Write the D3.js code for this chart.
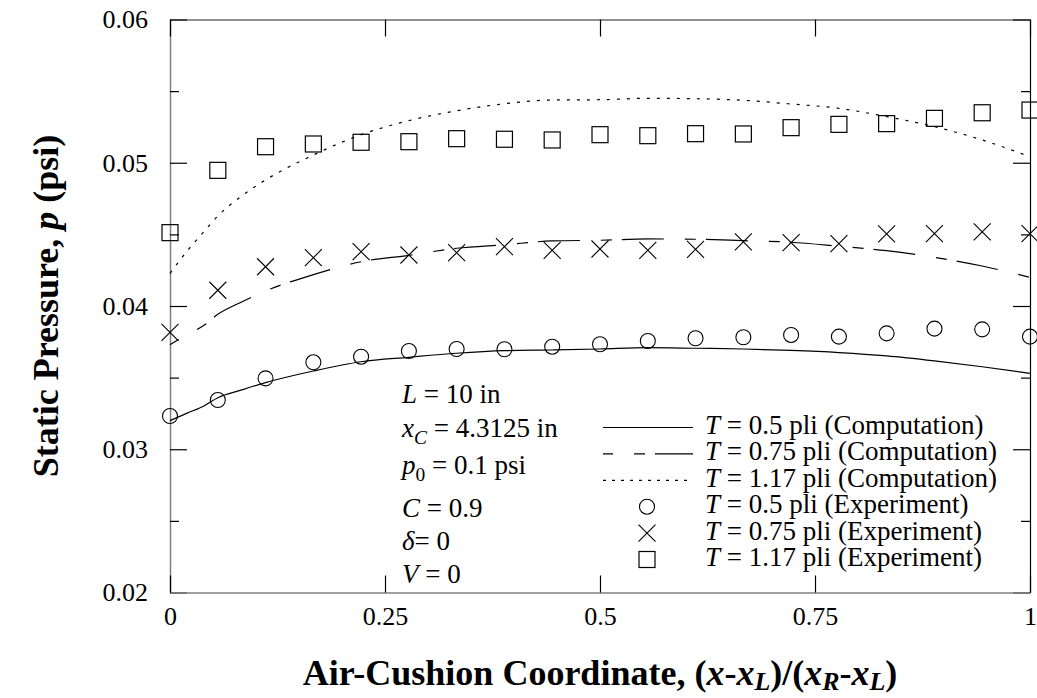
<!DOCTYPE html>
<html>
<head>
<meta charset="utf-8">
<script src="https://cdn.jsdelivr.net/npm/d3@7"></script>
<style>
  body { margin: 0; background: #fff; }
  text { font-family: "Liberation Serif", "Times New Roman", serif; fill: #000; }
</style>
</head>
<body>
<div class="chart"></div>
<script>
//axis ticks and their labels
var xMajor = [0, 0.25, 0.5, 0.75, 1];
var xTickLabels = ["0", "0.25", "0.5", "0.75", "1"];
var yMajor = [0.02, 0.03, 0.04, 0.05, 0.06];
var yTickLabels = ["0.02", "0.03", "0.04", "0.05", "0.06"];
var yMinor = [0.025, 0.035, 0.045, 0.055];

//stations of the measured pressures
var expX = [0, 0.0556, 0.1111, 0.1667, 0.2222, 0.2778, 0.3333, 0.3889, 0.4444, 0.5,
            0.5556, 0.6111, 0.6667, 0.7222, 0.7778, 0.8333, 0.8889, 0.9444, 1];

//measured pressures (psi)
var exp050 = [0.03232, 0.03344, 0.03495, 0.03607, 0.03646, 0.03686, 0.0370, 0.03698, 0.03716, 0.03733,
              0.03756, 0.03775, 0.03782, 0.03798, 0.03786, 0.03809, 0.03842, 0.03837, 0.03786];
var exp075 = [0.03816, 0.0411, 0.04274, 0.04337, 0.04379, 0.04356, 0.04372, 0.04414, 0.04389, 0.04398,
              0.04389, 0.04396, 0.04447, 0.04442, 0.04435, 0.04503, 0.04505, 0.04517, 0.04505];
var exp117 = [0.04512, 0.04947, 0.05112, 0.05131, 0.05143, 0.05147, 0.05168, 0.05164, 0.05159, 0.05196,
              0.05189, 0.05203, 0.05201, 0.05245, 0.05268, 0.05273, 0.0531, 0.05349, 0.05368];

//stations of the computed curves
var compX = [0, 0.02, 0.04, 0.0556, 0.0833, 0.1111, 0.1667, 0.2222, 0.2778, 0.3333, 0.3889,
             0.4444, 0.5, 0.5556, 0.6111, 0.6667, 0.7222, 0.7778, 0.8333, 0.8889, 0.9444, 1];

//computed pressures (psi)
var comp050 = [0.0320, 0.03252, 0.03304, 0.0336, 0.03414, 0.03465, 0.03546, 0.03611, 0.03642, 0.0367, 0.03688,
               0.03693, 0.0370, 0.03709, 0.03705, 0.0370, 0.0369, 0.03675, 0.03652, 0.03617, 0.03576, 0.0353];
var comp075 = [0.0373, 0.0380, 0.03867, 0.03942, 0.04028, 0.04105, 0.04219, 0.04309, 0.04354, 0.04403, 0.04428,
               0.04454, 0.04459, 0.04468, 0.04466, 0.04456, 0.04445, 0.04417, 0.04386, 0.0434, 0.04279, 0.0420];
var comp117 = [0.04228, 0.04384, 0.04523, 0.04628, 0.04768, 0.0488, 0.05054, 0.05196, 0.05294, 0.05363, 0.05412,
               0.05438, 0.0544, 0.0545, 0.05447, 0.05436, 0.0541, 0.0538, 0.05322, 0.05252, 0.05159, 0.05042];

//legend rows: label tension, kind and style
var legendArr = [
  ["0.5", "Computation", "solid"],
  ["0.75", "Computation", "dashed"],
  ["1.17", "Computation", "dotted"],
  ["0.5", "Experiment", "circle"],
  ["0.75", "Experiment", "cross"],
  ["1.17", "Experiment", "square"]
];

//run parameters written inside the plot
var params = [
  [{t: "L", i: true}, {t: " = 10 in"}],
  [{t: "x", i: true}, {t: "C", i: true, sub: true}, {t: " = 4.3125 in"}],
  [{t: "p", i: true}, {t: "0", sub: true}, {t: " = 0.1 psi"}],
  [{t: "C", i: true}, {t: " = 0.9"}],
  [{t: "\u03B4", i: true}, {t: "= 0"}],
  [{t: "V", i: true}, {t: " = 0"}]
];

const w = 1037;
const h = 698;
const padL = 170, padR = 1030, padT = 19.5, padB = 592.5;

const xScale = d3.scaleLinear().domain([0, 1]).range([padL, padR]);
const yScale = d3.scaleLinear().domain([0.02, 0.06]).range([padB, padT]);

const svg = d3.select(".chart")
  .append("svg")
  .attr("width", w)
  .attr("height", h);

//writes a line of text made of italic / subscript pieces
function richText(sel, parts, drop) {
  drop = drop || 7;
  parts.forEach(function(p, k) {
    var ts = sel.append("tspan").text(p.t);
    if (p.i) ts.attr("font-style", "italic");
    if (p.sub) {
      ts.attr("dy", drop).attr("font-size", "0.72em");
    } else if (k > 0 && parts[k - 1].sub) {
      ts.attr("dy", -drop);
    }
  });
}

//left axis with labels
const yAxis = svg.append("g")
  .attr("transform", "translate(" + padL + ",0)")
  .call(d3.axisLeft(yScale).tickValues(yMajor).tickSize(-17).tickSizeOuter(0).tickPadding(22)
    .tickFormat((d, i) => yTickLabels[i]));
yAxis.select(".domain").attr("stroke", "#808080").attr("stroke-width", 1.5);

svg.append("g")
  .attr("transform", "translate(" + padL + ",0)")
  .call(d3.axisLeft(yScale).tickValues(yMinor).tickSize(-9).tickSizeOuter(0).tickFormat(""))
  .select(".domain").remove();

//right axis
const yRight = svg.append("g")
  .attr("transform", "translate(" + padR + ",0)")
  .call(d3.axisRight(yScale).tickValues(yMajor).tickSize(-17).tickSizeOuter(0).tickFormat(""));
yRight.select(".domain").attr("stroke", "#000").attr("stroke-width", 1.2);

svg.append("g")
  .attr("transform", "translate(" + padR + ",0)")
  .call(d3.axisRight(yScale).tickValues(yMinor).tickSize(-9).tickSizeOuter(0).tickFormat(""))
  .select(".domain").remove();

//bottom axis with labels
const xAxis = svg.append("g")
  .attr("transform", "translate(0," + padB + ")")
  .call(d3.axisBottom(xScale).tickValues(xMajor).tickSize(-17).tickSizeOuter(0).tickPadding(14)
    .tickFormat((d, i) => xTickLabels[i]));
xAxis.select(".domain").attr("stroke", "#808080").attr("stroke-width", 1.5);

//top axis
const xTop = svg.append("g")
  .attr("transform", "translate(0," + padT + ")")
  .call(d3.axisTop(xScale).tickValues(xMajor).tickSize(-17).tickSizeOuter(0).tickFormat(""));
xTop.select(".domain").attr("stroke", "#222").attr("stroke-width", 1.2);

svg.selectAll(".tick line").attr("stroke", "#000").attr("stroke-width", 1.2);
svg.selectAll(".tick text")
  .attr("font-family", "'Liberation Serif', 'Times New Roman', serif")
  .attr("font-size", 26);

//computed curves
const line = d3.line()
  .x((d) => xScale(d[0]))
  .y((d) => yScale(d[1]))
  .curve(d3.curveMonotoneX);

const curves = [
  [comp050, null, 0],
  [comp075, "11,10,42,21", 53],
  [comp117, "3,7", 0]
];
curves.forEach(function(c) {
  svg.append("path")
    .datum(compX.map((x, i) => [x, c[0][i]]))
    .attr("d", line)
    .attr("fill", "none")
    .attr("stroke", "#000")
    .attr("stroke-width", 1.2)
    .attr("stroke-dasharray", c[1])
    .attr("stroke-dashoffset", c[2]);
});

//marker drawing
function drawMarker(g, kind, cx, cy) {
  if (kind == "circle") {
    g.append("circle").attr("cx", cx).attr("cy", cy).attr("r", 7.5)
      .attr("fill", "none").attr("stroke", "#000").attr("stroke-width", 1.1);
  } else if (kind == "cross") {
    g.append("path")
      .attr("d", "M" + (cx - 8.5) + "," + (cy - 8.5) + "L" + (cx + 8.5) + "," + (cy + 8.5) +
                 "M" + (cx - 8.5) + "," + (cy + 8.5) + "L" + (cx + 8.5) + "," + (cy - 8.5))
      .attr("fill", "none").attr("stroke", "#000").attr("stroke-width", 1.1);
  } else {
    g.append("rect").attr("x", cx - 8).attr("y", cy - 8).attr("width", 16).attr("height", 16)
      .attr("fill", "none").attr("stroke", "#000").attr("stroke-width", 1.2);
  }
}

//measured points
const markers = svg.append("g");
[[exp050, "circle"], [exp075, "cross"], [exp117, "square"]].forEach(function(s) {
  expX.forEach(function(x, i) {
    drawMarker(markers, s[1], xScale(x), yScale(s[0][i]));
  });
});

//parameters block
params.forEach(function(p, i) {
  var t = svg.append("text")
    .attr("x", 402)
    .attr("y", [403, 437, 474, 517, 550, 583][i])
    .attr("font-size", 27);
  richText(t, p);
});

//legend
const leg = svg.append("g");
legendArr.forEach(function(d, i) {
  var yy = 434 + i * 26.4;
  var my = yy - 6.5;
  if (d[2] == "solid" || d[2] == "dashed" || d[2] == "dotted") {
    leg.append("line")
      .attr("x1", 603).attr("x2", 693).attr("y1", my).attr("y2", my)
      .attr("stroke", "#000").attr("stroke-width", 1.2)
      .attr("stroke-dasharray", d[2] == "dashed" ? "11,10,42,21" : d[2] == "dotted" ? "3,6" : null)
      .attr("stroke-dashoffset", d[2] == "dashed" ? 53 : 0);
  } else {
    drawMarker(leg, d[2], 647, my);
  }
  var t = leg.append("text").attr("x", 705).attr("y", yy).attr("font-size", 27);
  richText(t, [{t: "T", i: true}, {t: " = " + d[0] + " pli (" + d[1] + ")"}]);
});

//x axis title
const xt = svg.append("text")
  .attr("x", (padL + padR) / 2)
  .attr("y", 685)
  .attr("text-anchor", "middle")
  .attr("font-weight", "bold")
  .attr("font-size", 36);
richText(xt, [{t: "Air-Cushion Coordinate, ("}, {t: "x", i: true}, {t: "-"}, {t: "x", i: true},
  {t: "L", i: true, sub: true}, {t: ")/("}, {t: "x", i: true}, {t: "R", i: true, sub: true},
  {t: "-"}, {t: "x", i: true}, {t: "L", i: true, sub: true}, {t: ")"}], 5);

//y axis title
const yt = svg.append("text")
  .attr("transform", "translate(58," + ((padT + padB) / 2) + ") rotate(-90)")
  .attr("text-anchor", "middle")
  .attr("font-weight", "bold")
  .attr("font-size", 36);
richText(yt, [{t: "Static Pressure, "}, {t: "p", i: true}, {t: " (psi)"}]);
</script>
</body>
</html>
